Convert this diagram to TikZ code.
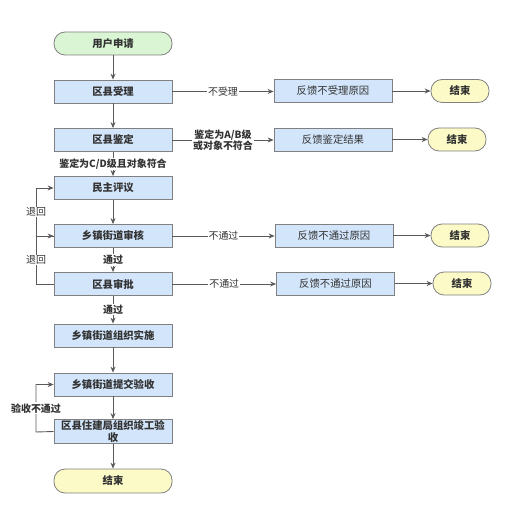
\documentclass[tikz,border=0pt]{standalone}
\usepackage{fontspec}
\setmainfont{Noto Sans CJK SC}
\usetikzlibrary{arrows.meta}
\definecolor{boxblue}{HTML}{D2E5FA}
\definecolor{boxgreen}{HTML}{D9F5D3}
\definecolor{boxyellow}{HTML}{FCFAC6}
\definecolor{edgegray}{HTML}{808080}
\definecolor{linegray}{HTML}{5A5A5A}
\definecolor{txt}{HTML}{333333}
\tikzset{
  base/.style={draw=edgegray, line width=0.8pt, minimum height=23bp, align=center, inner sep=1pt, font=\fontsize{10.4}{12}\selectfont, text=txt},
  stepbox/.style={base, fill=boxblue, minimum width=118bp, text width=114bp, font=\fontsize{10.4}{12}\selectfont\bfseries},
  fbbox/.style={base, fill=boxblue, minimum width=118bp},
  startbox/.style={base, fill=boxgreen, rounded corners=11bp, minimum width=118bp, font=\fontsize{10.4}{12}\selectfont\bfseries},
  endbig/.style={base, fill=boxyellow, rounded corners=11bp, minimum width=118bp, minimum height=24bp, font=\fontsize{10.4}{12}\selectfont\bfseries},
  endsmall/.style={base, fill=boxyellow, rounded corners=11bp, minimum width=58bp, font=\fontsize{10.4}{12}\selectfont\bfseries},
  conn/.style={draw=linegray, line width=0.9pt, -{Stealth[length=6bp,width=5bp]}},
  lbl/.style={fill=white, inner sep=1pt, font=\fontsize{10}{10.5}\selectfont\bfseries, text=txt, align=center},
  lbln/.style={fill=white, inner sep=1pt, font=\fontsize{10}{10.5}\selectfont, text=txt, align=center}
}
\begin{document}
\begin{tikzpicture}[x=1bp,y=-1bp]
\useasboundingbox (0,0) rectangle (526,508);
\node[startbox] (s) at (113,43.5) {用户申请};
\node[stepbox] (p1) at (113,91.5) {区县受理};
\node[stepbox] (p2) at (113,140) {区县鉴定};
\node[stepbox] (p3) at (113,188) {民主评议};
\node[stepbox] (p4) at (113,236) {乡镇街道审核};
\node[stepbox] (p5) at (113,284) {区县审批};
\node[stepbox] (p6) at (113,335.5) {乡镇街道组织实施};
\node[stepbox] (p7) at (113,384.5) {乡镇街道提交验收};
\node[stepbox] (p8) at (113,431.5) {区县住建局组织竣工验\\收};
\node[endbig] (e0) at (113,481) {结束};

\node[fbbox] (f1) at (333,91) {反馈不受理原因};
\node[fbbox] (f2) at (333,139.5) {反馈鉴定结果};
\node[fbbox] (f3) at (334,235.5) {反馈不通过原因};
\node[fbbox] (f4) at (335.5,283.5) {反馈不通过原因};
\node[endsmall] (e1) at (460,91) {结束};
\node[endsmall] (e2) at (457,139.5) {结束};
\node[endsmall] (e3) at (460,235.5) {结束};
\node[endsmall] (e4) at (462,283.5) {结束};

\draw[conn] (s) -- (p1);
\draw[conn] (p1) -- (p2);
\draw[conn] (p2) -- node[lbl]{鉴定为C/D级且对象符合} (p3);
\draw[conn] (p3) -- (p4);
\draw[conn] (p4) -- node[lbl]{通过} (p5);
\draw[conn] (p5) -- node[lbl]{通过} (p6);
\draw[conn] (p6) -- (p7);
\draw[conn] (p7) -- (p8);
\draw[conn] (p8) -- (e0);

\draw[conn] (p1.east) -- node[lbln]{不受理} (p1.east -| f1.west);
\draw[conn] (p2.east) -- node[lbl]{鉴定为A/B级\\或对象不符合} (p2.east -| f2.west);
\draw[conn] (p4.east) -- node[lbln]{不通过} (p4.east -| f3.west);
\draw[conn] (p5.east) -- node[lbln]{不通过} (p5.east -| f4.west);
\draw[conn] (f1) -- (e1);
\draw[conn] (f2) -- (e2);
\draw[conn] (f3) -- (e3);
\draw[conn] (f4) -- (e4);

\coordinate (l1) at (36,236);
\coordinate (l2) at (36,284);
\coordinate (l3) at (36,432);
\draw[conn] (p4.west) -- (l1) |- node[pos=0.25,lbln]{退回} (p3.west);
\draw[conn] (p5.west) -- (l2) |- node[pos=0.25,lbln]{退回} (p4.west);
\draw[conn] (p8.west) -- (l3) |- node[pos=0.25,lbl]{验收不通过} (p7.west);
\end{tikzpicture}
\end{document}
